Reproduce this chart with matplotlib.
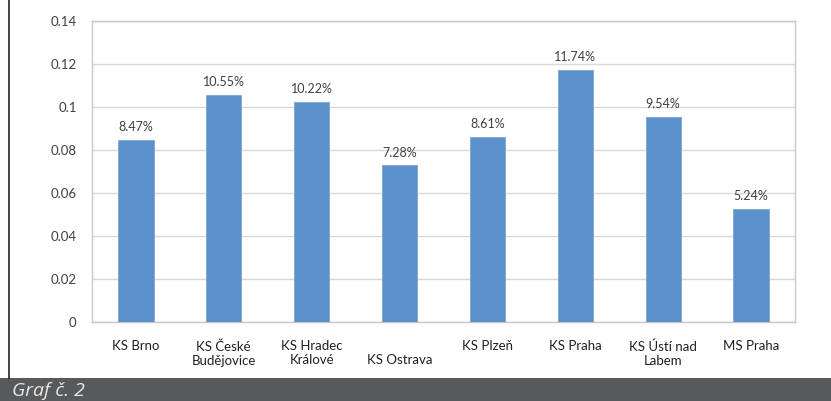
import matplotlib
matplotlib.use("Agg")
import matplotlib.pyplot as plt
from matplotlib.patches import Rectangle
from matplotlib.lines import Line2D

# data
soudy = ["KS Brno", "KS České\nBudějovice", "KS Hradec\nKrálové", "\nKS Ostrava",
         "KS Plzeň", "KS Praha", "KS Ústí nad\nLabem", "MS Praha"]
podil = [0.0847, 0.1055, 0.1022, 0.0728, 0.0861, 0.1174, 0.0954, 0.0524]
y_ticks = [0, 0.02, 0.04, 0.06, 0.08, 0.1, 0.12, 0.14]
y_tick_labels = ["0", "0.02", "0.04", "0.06", "0.08", "0.1", "0.12", "0.14"]

plt.rcParams['font.family'] = ['Lato', 'DejaVu Sans']

W, H = 831, 401
fig = plt.figure(figsize=(W / 100, H / 100), dpi=100)
ax = fig.add_axes([92 / W, (H - 322) / H, (795 - 92) / W, (322 - 21) / H])

x = range(len(soudy))
bars = ax.bar(x, podil, width=0.4, color="#5b90cc", edgecolor="#7ba7d9", linewidth=0.6, zorder=3)
for xi, v in zip(x, podil):
    ax.annotate(f"{v * 100:.2f}%", (xi, v), xytext=(0, 5), textcoords="offset points",
                ha="center", va="bottom", fontsize=9, color="#404040")

ax.set_xlim(-0.5, len(soudy) - 0.5)
ax.set_ylim(0, 0.14)
ax.set_yticks(y_ticks)
ax.set_yticklabels(y_tick_labels, fontsize=9.5, color="#404040")
ax.set_xticks(list(x))
ax.set_xticklabels(soudy, fontsize=9.5, color="#202020", linespacing=1.2)
ax.tick_params(axis="y", length=0, pad=11)
ax.tick_params(axis="x", length=0, pad=13)
ax.grid(axis="y", color="#d9d9d9", linewidth=1, zorder=0)
for s in ax.spines.values():
    s.set_color("#c8c8c8")
    s.set_linewidth(1)

# spodní pruh s popiskem
fig.patches.append(Rectangle((0, 0), 1, 23 / H, transform=fig.transFigure,
                             facecolor="#58595b", edgecolor="none", zorder=0))
fig.lines.append(Line2D([8.5 / W, 8.5 / W], [23 / H, 1], transform=fig.transFigure,
                        color="#222222", linewidth=1.2))
fig.text(12 / W, 5 / H, "Graf č. 2", fontsize=14, style="italic", color="#e6e6e6",
         family=["Open Sans", "DejaVu Sans"], ha="left", va="baseline")

fig.savefig("out.png", dpi=100)
